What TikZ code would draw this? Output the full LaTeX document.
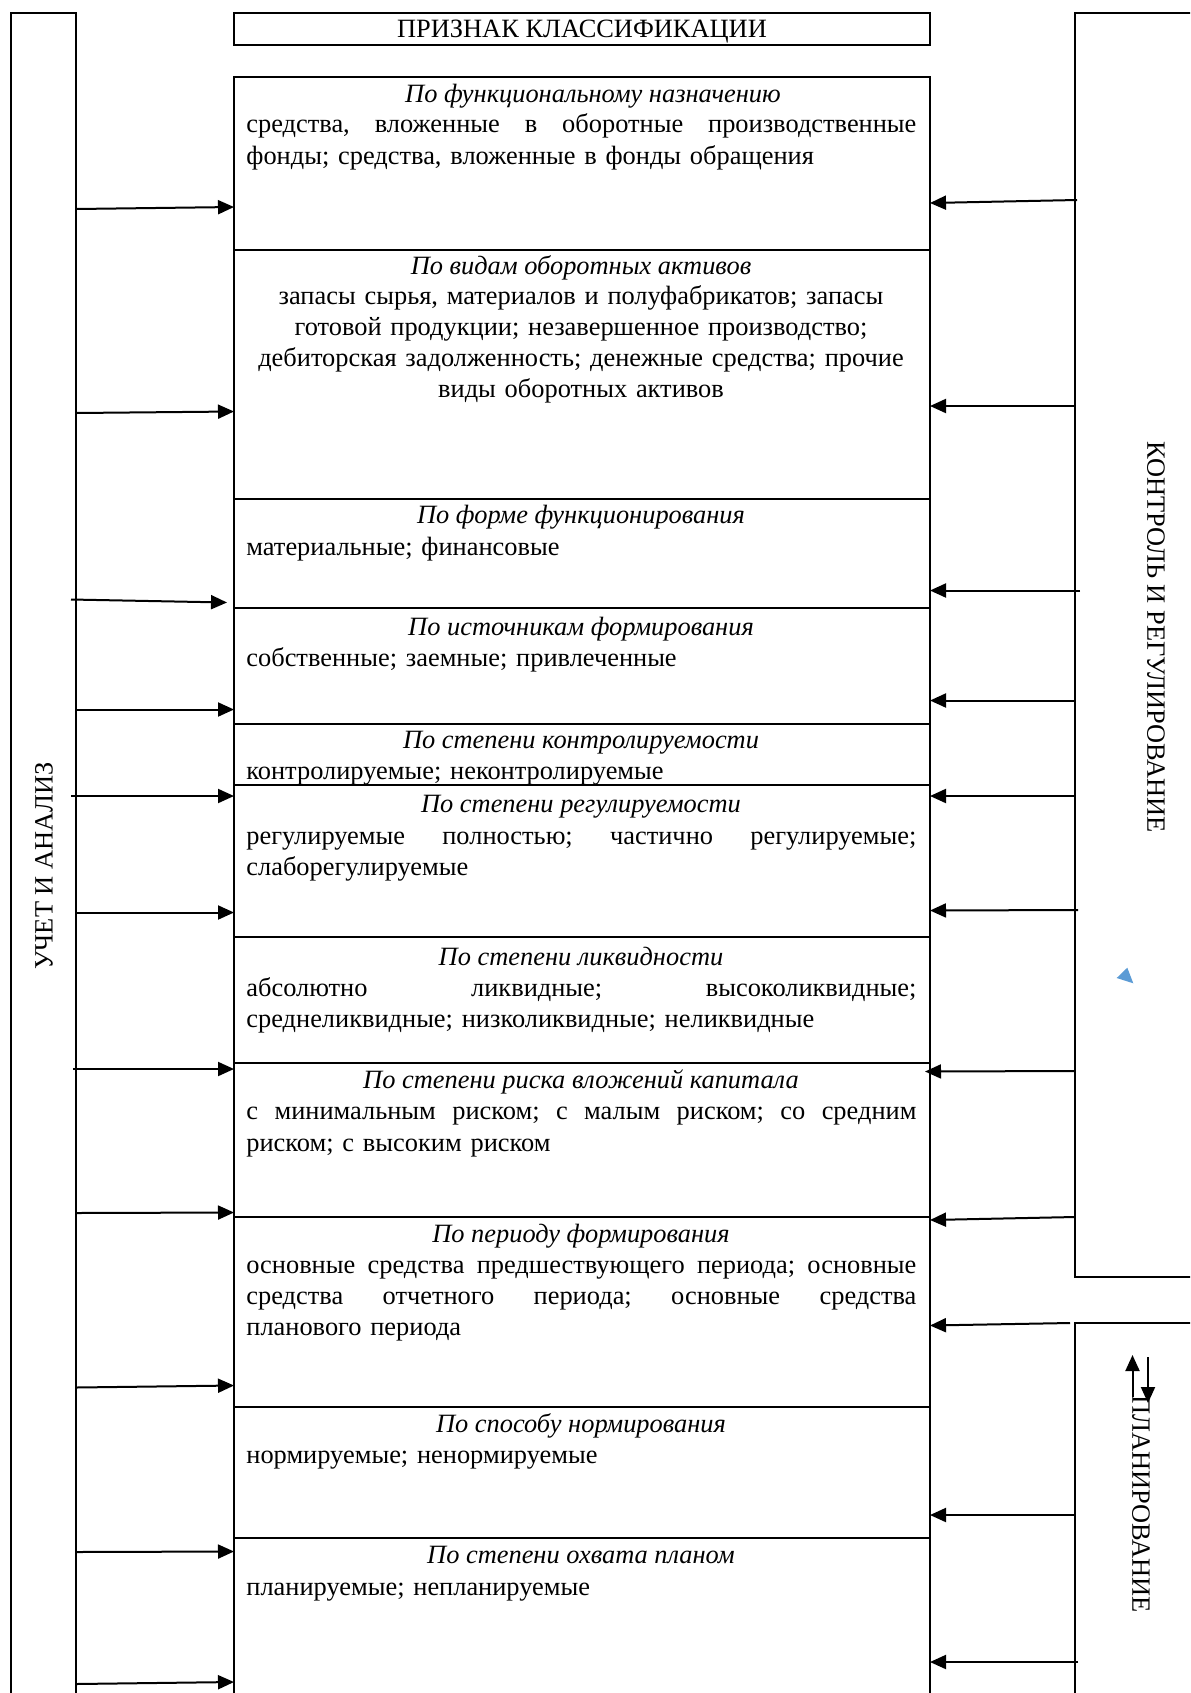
\documentclass[tikz,border=0pt]{standalone}
\usepackage{fontspec}
\setmainfont{Liberation Serif}
\usetikzlibrary{arrows.meta}
\definecolor{markblue}{HTML}{5B9BD5}
% a fully justified line of the body text (words spread with \hfill)
\newcommand\jline[1]{\leavevmode\hbox to 335pt{#1}}
\begin{document}
\begin{tikzpicture}[x=0.5pt,y=-0.5pt,
  frame/.style={draw, line width=1pt, inner sep=0pt, outer sep=0pt},
  panel/.style={frame, anchor=north west, minimum width=#1},
  stackbox/.style={frame, anchor=north west, minimum width=348pt, minimum height=#1},
  head/.style={anchor=base, inner sep=0pt, font=\fontsize{13.2}{15.55}\selectfont\itshape},
  body/.style={anchor=base west, inner sep=0pt, text width=335pt, align=left,
    font=\fontsize{13.2}{15.55}\selectfont},
  cbody/.style={body, anchor=base, align=center},
  sidelabel/.style={inner sep=0pt, text depth=0pt, font=\fontsize{13.2}{15.5}\selectfont},
  arr/.style={line width=1pt, -{Triangle[length=8pt,width=7pt]}}]
\useasboundingbox (0,0) rectangle (1190,1693);
\clip (0,0) rectangle (1190,1693);

% side panels
\node[panel=32.5pt, minimum height=860pt] (ua) at (11,13) {};
\node[panel=62.5pt, minimum height=632pt] (kr) at (1075,13) {};
\node[panel=62.5pt, minimum height=400pt] (pl) at (1075,1323) {};
\node[sidelabel, rotate=90] (uaT) at (44,866) {УЧЕТ И АНАЛИЗ};
\node[sidelabel, rotate=-90] (krT) at (1156,637) {КОНТРОЛЬ И РЕГУЛИРОВАНИЕ};
\node[sidelabel, rotate=-90] (plT) at (1141,1504) {ПЛАНИРОВАНИЕ};

% heading of the classification
\node[frame, anchor=north west, minimum width=348pt, minimum height=15.75pt,
  text height=8.7pt, text depth=0pt, font=\fontsize{13.2}{15.5}\selectfont] (title) at (234,13)
  {ПРИЗНАК КЛАССИФИКАЦИИ};

% stack of classification boxes
\node[stackbox=86.4pt] (b1) at (234,76.7) {};
\node[stackbox=124.7pt] (b2) at (b1.south west) {};
\node[stackbox=54.55pt] (b3) at (b2.south west) {};
\node[stackbox=57.75pt] (b4) at (b3.south west) {};
\node[stackbox=30.75pt] (b5) at (b4.south west) {};
\node[stackbox=76.2pt] (b6) at (b5.south west) {};
\node[stackbox=62.6pt] (b7) at (b6.south west) {};
\node[stackbox=77.2pt] (b8) at (b7.south west) {};
\node[stackbox=95pt] (b9) at (b8.south west) {};
\node[stackbox=65.4pt] (b10) at (b9.south west) {};
\node[stackbox=95pt] (b11) at (b10.south west) {};

% box texts
\node[head] (h1) at (593,102.6) {По функциональному назначению};
\node[body] (t1) at (246,132.9) {\jline{средства,\hfill вложенные\hfill в\hfill оборотные\hfill производственные}\\
  фонды; средства, вложенные в фонды обращения};

\node[head] (h2) at (581,274.3) {По видам оборотных активов};
\node[cbody] (t2) at (581,304.6) {запасы сырья, материалов и полуфабрикатов; запасы\\
  готовой продукции; незавершенное производство;\\
  дебиторская задолженность; денежные средства; прочие\\
  виды оборотных активов};

\node[head] (h3) at (581,523.8) {По форме функционирования};
\node[body] (t3) at (246,555.4) {материальные; финансовые};

\node[head] (h4) at (581,635) {По источникам формирования};
\node[body] (t4) at (246,666.3) {собственные; заемные; привлеченные};

\node[head] (h5) at (581,748.8) {По степени контролируемости};
\node[body] (t5) at (246,779) {контролируемые; неконтролируемые};

\node[head] (h6) at (581,812.2) {По степени регулируемости};
\node[body] (t6) at (246,844) {\jline{регулируемые\hfill полностью;\hfill частично\hfill регулируемые;}\\
  слаборегулируемые};

\node[head] (h7) at (581,965.5) {По степени ликвидности};
\node[body] (t7) at (246,996) {\jline{абсолютно\hfill ликвидные;\hfill высоколиквидные;}\\
  среднеликвидные; низколиквидные; неликвидные};

\node[head] (h8) at (581,1088.6) {По степени риска вложений капитала};
\node[body] (t8) at (246,1119.9) {\jline{с\hfill минимальным\hfill риском;\hfill с\hfill малым\hfill риском;\hfill со\hfill средним}\\
  риском; с высоким риском};

\node[head] (h9) at (581,1242) {По периоду формирования};
\node[body] (t9) at (246,1273.3) {\jline{основные\hfill средства\hfill предшествующего\hfill периода;\hfill основные}\\
  \jline{средства\hfill отчетного\hfill периода;\hfill основные\hfill средства}\\
  планового периода};

\node[head] (h10) at (581,1432) {По способу нормирования};
\node[body] (t10) at (246,1463.3) {нормируемые; ненормируемые};

\node[head] (h11) at (581,1563.8) {По степени охвата планом};
\node[body] (t11) at (246,1595.1) {планируемые; непланируемые};

% arrows from accounting and analysis
\draw[arr] (ua.east |- 0,209) -- (b1.west |- 0,207);
\draw[arr] (ua.east |- 0,413) -- (b2.west |- 0,411.5);
\draw[arr] ([xshift=-2.5pt]ua.east |- 0,599.5) -- ([xshift=-3.5pt]b3.west |- 0,602.5);
\draw[arr] (ua.east |- 0,709.5) -- (b4.west |- 0,709.5);
\draw[arr] ([xshift=-2.5pt]ua.east |- 0,796) -- (b6.west |- 0,796);
\draw[arr] (ua.east |- 0,912.5) -- (b6.west |- 0,912.5);
\draw[arr] ([xshift=-1.5pt]ua.east |- 0,1069) -- (b8.west |- 0,1069);
\draw[arr] (ua.east |- 0,1213) -- (b8.west |- 0,1212.5);
\draw[arr] (ua.east |- 0,1387.5) -- (b9.west |- 0,1385.5);
\draw[arr] (ua.east |- 0,1552) -- (b11.west |- 0,1551.5);
\draw[arr] (ua.east |- 0,1684) -- (b11.west |- 0,1682);

% arrows from control and regulation
\draw[arr] ([xshift=1pt]kr.west |- 0,200) -- (b1.east |- 0,203);
\draw[arr] (kr.west |- 0,406) -- (b2.east |- 0,406);
\draw[arr] ([xshift=2.5pt]kr.west |- 0,590.5) -- (b3.east |- 0,590.5);
\draw[arr] (kr.west |- 0,700.5) -- (b4.east |- 0,700.5);
\draw[arr] (kr.west |- 0,796) -- (b6.east |- 0,796);
\draw[arr] ([xshift=1.5pt]kr.west |- 0,910) -- (b6.east |- 0,910.5);
\draw[arr] (kr.west |- 0,1071) -- ([xshift=-2.5pt]b8.east |- 0,1071.5);
\draw[arr] (kr.west |- 0,1217) -- (b9.east |- 0,1220);

% arrows from planning
\draw[arr] ([xshift=-2.5pt]pl.north west) -- (b9.east |- 0,1325.5);
\draw[arr] (pl.west |- 0,1515) -- (b10.east |- 0,1515);
\draw[arr] ([xshift=1.5pt]pl.west |- 0,1662) -- (b11.east |- 0,1662);

% pair of opposite arrows at the planning label
\coordinate (upA) at (1132.5,1397);
\coordinate (upB) at (1132.5,1355);
\coordinate (dnA) at (1148,1357);
\coordinate (dnB) at (1148,1403);
\draw[arr] (upA) -- (upB);
\draw[arr] (dnA) -- (dnB);

% small blue marker
\fill[markblue] (1116.7,978) -- (1127.3,967.7) -- (1133.3,983.3) -- cycle;
\end{tikzpicture}
\end{document}
